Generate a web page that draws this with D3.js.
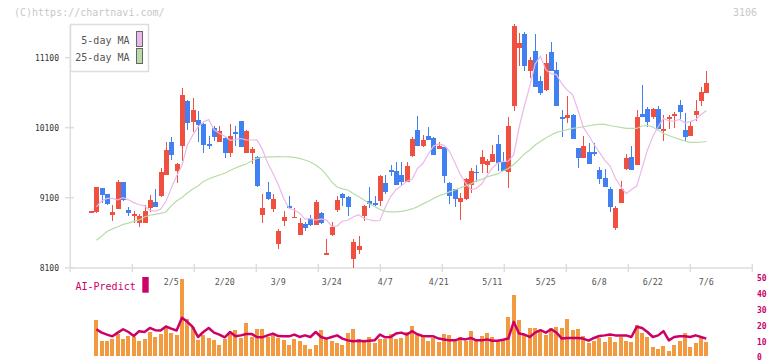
<!DOCTYPE html>
<html><head><meta charset="utf-8">
<script src="https://cdn.jsdelivr.net/npm/d3@7"></script>
<style>
html,body{margin:0;padding:0;background:#fff;}
svg{display:block;}
text{font-family:"DejaVu Sans Mono",monospace;}
</style></head>
<body><svg id="c" width="772" height="361"></svg>
<script>
const dates = ["1/15","1/16","1/19","1/20","1/21","1/22","1/23","1/26","1/27","1/28","1/29","1/30","2/2","2/3","2/4","2/5","2/6","2/9","2/10","2/12","2/13","2/16","2/17","2/18","2/19","2/20","2/24","2/25","2/26","2/27","3/2","3/3","3/4","3/5","3/6","3/9","3/10","3/11","3/12","3/13","3/16","3/17","3/18","3/19","3/23","3/24","3/25","3/26","3/27","3/30","3/31","4/1","4/2","4/3","4/6","4/7","4/8","4/9","4/10","4/13","4/14","4/15","4/16","4/17","4/20","4/21","4/22","4/23","4/24","4/27","4/28","4/30","5/1","5/7","5/8","5/11","5/12","5/13","5/14","5/15","5/18","5/19","5/20","5/21","5/22","5/25","5/26","5/27","5/28","5/29","6/1","6/2","6/3","6/4","6/5","6/8","6/9","6/10","6/11","6/12","6/15","6/16","6/17","6/18","6/19","6/22","6/23","6/24","6/25","6/26","6/29","6/30","7/1","7/2","7/3","7/6"];
const dateLabels = ["2/5","2/20","3/9","3/24","4/7","4/21","5/11","5/25","6/8","6/22","7/6"];
const priceTicks = [8100, 9100, 10100, 11100];
const predictTicks = [0, 10, 20, 30, 40, 50];

const open = [8900,8897,9240,9154,8855,8940,9325,8926,8845,8745, 8745,8959,9040,9126,9425,9896,9487,9843,10481,10186, 10210,10153,9867,10096,9896,9953,9743,10043,10196,9743, 9743,9682,8859,9183,8945,8445,8773,8983,8816,8574, 8726,8798,8716,8883,8300,8569,8926,9154,9111,8231, 8355,8840,9054,9026,9054,9311,9497,9482,9425,9325, 9690,10067,9839,9982,9953,9796,9825,9311,9226,9040, 9083,9283,9468,9586,9572,9615,9867,9611,9472,10414, 11241,11437,10913,11194,10766,10642,11180,10923,10253,10243, 10281,9810,9668,9753,9753,9501,9387,9230,8673,9030, 9515,9682,9572,10295,10367,10257,10367,10057,10228,10271, 10424,10067,9986,10285,10485,10599];
const high = [8910,9260,9245,9160,8997,9354,9330,8969,8912,8869, 8997,9140,9226,9525,9896,9967,9590,10666,10490,10524, 10338,10160,9982,10128,10128,9960,10153,10128,10200,10060, 9829,9690,9154,9325,9154,8655,8912,9126,8950,8808, 8755,8855,9069,8890,8512,8755,9126,9168,9126,8517, 8555,8990,9254,9126,9420,9425,9568,9611,9611,9611, 9960,10267,9996,10110,9960,9896,9830,9325,9230,9168, 9375,9525,9568,9782,9658,9853,9996,9758,10253,11579, 11451,11465,11113,11437,10838,11151,11323,11037,10352,10552, 10295,9815,9982,9882,9882,9544,9515,9254,8987,9344, 9725,9839,10352,10709,10395,10375,10410,10281,10281,10324, 10495,10310,10196,10495,10685,10909];
const low = [8898,8883,9030,8997,8773,8935,9060,8845,8736,8688, 8740,8902,8965,9116,9418,9644,9315,9629,10067,10043, 9896,9743,9796,9910,9890,9672,9686,9843,9820,9735, 9586,9250,8745,9069,8902,8374,8702,8945,8808,8570, 8631,8698,8710,8726,8298,8555,8897,8983,8840,8103, 8298,8769,8955,8983,8983,9154,9411,9280,9287,9320, 9685,9835,9820,9920,9705,9790,9311,9012,8969,8783, 9069,9168,9325,9458,9458,9610,9482,9478,9244,10343, 10984,10913,10813,10680,10566,10628,10905,10410,9972,10171, 9940,9525,9660,9580,9701,9301,9255,8902,8645,9025, 9501,9495,9565,10250,10114,10228,10080,9915,10086,10100, 10228,9915,9980,10196,10414,10595];
const close = [8907,9254,9140,9012,8897,9325,9069,8887,8869,8840, 8912,9069,8973,9468,9782,9715,9582,10566,10171,10352, 10143,9857,9843,9972,10053,9743,9982,10014,9829,10053, 9796,9268,8955,9083,9083,8626,8826,8959,8826,8740, 8673,8712,9040,8740,8310,8683,9069,9097,8969,8470, 8412,8983,9012,8997,9411,9183,9472,9283,9325,9554, 9940,9839,9925,9925,9711,9839,9411,9126,9083,9097, 9368,9482,9450,9682,9629,9725,9601,9482,10124,11551, 11308,10984,11066,10685,10599,11023,10913,10414,10228,10281, 9943,9668,9839,9586,9721,9372,9258,8973,8959,9230, 9668,9501,10253,10257,10186,10367,10086,10081,10253,10300, 10328,9972,10124,10338,10614,10738];
const ma5 = [null,8969,9054,9090,9090,9070,9100,9070,9030,9000, 8985,8920,8910,8935,9045,9235,9410,9560,9850,9990, 10110,10180,10215,10070,10020,9978,9920,9930,9945,9925, 9924,9925,9794,9600,9450,9290,9090,8950,8925,8880, 8795,8805,8782,8798,8781,8695,8697,8768,8779,8825, 8858,8803,8786,8769,8775,8963,9117,9215,9269,9335, 9363,9515,9588,9717,9837,9868,9848,9762,9602,9434, 9311,9217,9231,9296,9416,9522,9594,9617,9624,9712, 10097,10413,10690,11007,11119,10928,10871,10857,10727,10635, 10572,10356,10107,9992,9863,9751,9637,9555,9382,9257, 9158,9218,9266,9522,9782,9973,10113,10230,10195,10195, 10217,10170,10187,10215,10285,10345];
const ma25 = [null,8494,8555,8619,8655,8686,8719,8738,8762,8783, 8826,8850,8862,8876,8897,8983,9054,9104,9168,9226, 9268,9333,9368,9397,9425,9450,9489,9525,9554,9582, 9625,9661,9678,9682,9682,9686,9685,9682,9675,9661, 9639,9611,9568,9511,9425,9325,9254,9226,9211,9161, 9119,9069,9019,8976,8933,8905,8897,8897,8905,8919, 8940,8969,9012,9047,9090,9126,9154,9183,9211,9240, 9268,9297,9340,9361,9397,9418,9440,9482,9518,9575, 9646,9725,9782,9853,9903,9953,9996,10032,10053,10071, 10089,10099,10113,10127,10139,10149,10146,10131,10117,10103, 10091,10089,10089,10124,10131,10110,10067,10017,9989,9960, 9932,9910,9889,9889,9892,9903];
const volume = [null,22.0,8.8,8.8,10.0,13.6,10.0,12.1,11.5,8.8, 10.0,14.6,11.5,13.2,17.1,14.2,12.5,47.7,22.6,17.8, 9.4,13.0,10.9,9.4,6.7,10.5,13.2,15.7,10.9,20.1, 11.5,16.3,16.7,11.8,13.6,10.9,9.4,6.7,10.0,8.8, 6.7,4.2,6.7,15.7,10.9,8.8,7.9,6.7,14.2,16.3, 10.5,8.4,11.5,7.9,10.0,10.0,13.2,10.5,10.9,14.6, 18.4,13.4,12.1,8.8,10.9,8.4,13.4,12.5,10.0,11.5, 9.0,15.1,10.0,12.1,13.8,11.5,8.8,9.4,24.0,37.7, 22.0,12.5,17.1,17.1,15.1,12.5,17.1,17.8,17.1,22.6, 15.7,16.3,12.1,7.5,8.8,10.9,8.4,11.5,8.4,11.5, 8.8,8.4,19.2,14.0,11.5,5.2,4.0,6.1,3.1,6.7, 8.8,14.0,5.2,7.7,10.9,8.4];
const aiPredict = [null,16.3,14.2,13.0,11.9,14.2,16.3,14.6,12.1,15.1, 14.6,17.1,15.7,15.5,18.0,16.7,15.5,23.4,20.9,17.8, 11.5,14.6,17.1,14.2,13.0,11.3,14.6,11.9,12.5,13.4, 13.4,11.5,11.3,12.5,13.6,12.1,11.9,11.9,13.0,11.5, 12.5,11.5,14.6,11.5,10.5,11.5,12.5,10.5,9.4,8.8, 9.2,8.8,9.2,9.4,13.0,11.3,11.5,13.6,14.2,13.0, 15.1,13.2,12.1,11.9,11.9,10.5,10.0,9.4,9.4,10.5, 10.0,10.9,9.4,9.4,10.0,9.2,9.2,9.8,10.5,20.9, 13.6,13.0,11.5,14.2,15.7,14.2,16.3,14.2,10.5,10.9, 10.9,10.9,10.5,9.2,10.9,12.1,12.5,13.0,12.5,12.5, 12.5,11.5,17.8,17.1,14.6,11.5,12.5,15.1,9.4,11.5, 11.9,11.9,11.5,12.5,11.5,10.5];

const UP = "#f05040", DOWN = "#4080f0", MA5C = "#eab8ea", MA25C = "#b8dca8";
const VOLC = "#f29a40", AIC = "#cc0066", AXC = "#dddddd";

const svg = d3.select("#c");
svg.append("rect").attr("width",772).attr("height",361).attr("fill","#fff");

const x = d3.scalePoint().domain(dates).range([91, 706.3]);
const y = d3.scaleLinear().domain([8100, 11100]).range([267.8, 57.6]);
const yb = d3.scaleLinear().domain([0, 50]).range([355.5, 275]);
const xt = d3.scaleLinear().domain([0, 11]).range([70.3, 752.3]);

// watermark
svg.append("text").attr("x",14).attr("y",16).attr("font-size",10).attr("fill","#c8c8c8").text("(C)https://chartnavi.com/");
svg.append("text").attr("x",757).attr("y",16).attr("text-anchor","end").attr("font-size",10).attr("fill","#c8c8c8").text("3106");

// axes
const ax = svg.append("g").attr("stroke",AXC).attr("stroke-width",1.5);
ax.append("line").attr("x1",70.3).attr("x2",70.3).attr("y1",25).attr("y2",268.5);
ax.append("line").attr("x1",70.3).attr("x2",752.3).attr("y1",268).attr("y2",268);
ax.selectAll(".xt").data(d3.range(12)).join("line")
  .attr("x1",d=>xt(d)).attr("x2",d=>xt(d)).attr("y1",264).attr("y2",272);
ax.selectAll(".yt").data(priceTicks).join("line")
  .attr("x1",65).attr("x2",74).attr("y1",d=>y(d)).attr("y2",d=>y(d));

svg.selectAll(".ytl").data(priceTicks).join("text")
  .attr("x",59).attr("y",d=>y(d)+3).attr("text-anchor","end")
  .attr("font-size",8).attr("fill","#333").text(d=>d);

svg.selectAll(".xtl").data(dateLabels).join("text")
  .attr("x",d=>x(d)).attr("y",285).attr("text-anchor","middle")
  .attr("font-size",8.3).attr("fill","#555").text(d=>d);

// candles
const idx = d3.range(dates.length);
const cg = svg.append("g").attr("shape-rendering","crispEdges");
cg.selectAll(".w").data(idx).join("line")
  .attr("x1",i=>Math.round(x(dates[i]))+0.5).attr("x2",i=>Math.round(x(dates[i]))+0.5)
  .attr("y1",i=>y(high[i])).attr("y2",i=>y(low[i]))
  .attr("stroke",i=>close[i]>=open[i]?UP:DOWN).attr("stroke-width",1);
cg.selectAll(".b").data(idx).join("rect")
  .attr("x",i=>Math.round(x(dates[i]))-2).attr("width",5)
  .attr("y",i=>y(Math.max(open[i],close[i])))
  .attr("height",i=>Math.max(1.5, Math.abs(y(open[i])-y(close[i]))))
  .attr("fill",i=>close[i]>=open[i]?UP:DOWN);

// moving averages
const lineGen = arr => d3.line().defined(i=>arr[i]!=null).x(i=>x(dates[i])).y(i=>y(arr[i]))(idx);
svg.append("path").attr("d",lineGen(ma25)).attr("fill","none").attr("stroke",MA25C).attr("stroke-width",1.2);
svg.append("path").attr("d",lineGen(ma5)).attr("fill","none").attr("stroke",MA5C).attr("stroke-width",1.2);

// legend
svg.append("rect").attr("x",70.5).attr("y",24.5).attr("width",78).attr("height",47)
  .attr("fill","#fff").attr("stroke",AXC).attr("stroke-width",1.5);
svg.append("text").attr("x",129.5).attr("y",44).attr("text-anchor","end").attr("font-size",10).attr("fill","#555").text("5-day MA");
svg.append("text").attr("x",129.5).attr("y",61).attr("text-anchor","end").attr("font-size",10).attr("fill","#555").text("25-day MA");
svg.append("rect").attr("x",136.5).attr("y",31.5).attr("width",6).attr("height",15).attr("fill",MA5C).attr("stroke","#666");
svg.append("rect").attr("x",136.5).attr("y",48.5).attr("width",6).attr("height",15).attr("fill",MA25C).attr("stroke","#666");

// bottom panel
svg.append("g").attr("shape-rendering","crispEdges").selectAll("rect").data(idx.filter(i=>volume[i]!=null)).join("rect")
  .attr("x",i=>Math.round(x(dates[i]))-2).attr("width",4)
  .attr("y",i=>yb(volume[i])).attr("height",i=>yb(0)-yb(volume[i]))
  .attr("fill",VOLC);
svg.append("path").attr("d",d3.line().defined(i=>aiPredict[i]!=null).x(i=>x(dates[i])).y(i=>yb(aiPredict[i]))(idx))
  .attr("fill","none").attr("stroke",AIC).attr("stroke-width",2.5).attr("stroke-linejoin","round");

svg.selectAll(".rtl").data(predictTicks).join("text")
  .attr("x",757).attr("y",d=>Math.min(yb(d)+6, 359.5)).attr("font-size",8).attr("font-weight","bold")
  .attr("fill",AIC).text(d=>d);
svg.append("text").attr("x",75.5).attr("y",289.5).attr("font-size",10).attr("fill",AIC).text("AI-Predict");
svg.append("rect").attr("x",142.3).attr("y",277).attr("width",6.4).attr("height",15.7).attr("fill",AIC);
</script></body></html>
